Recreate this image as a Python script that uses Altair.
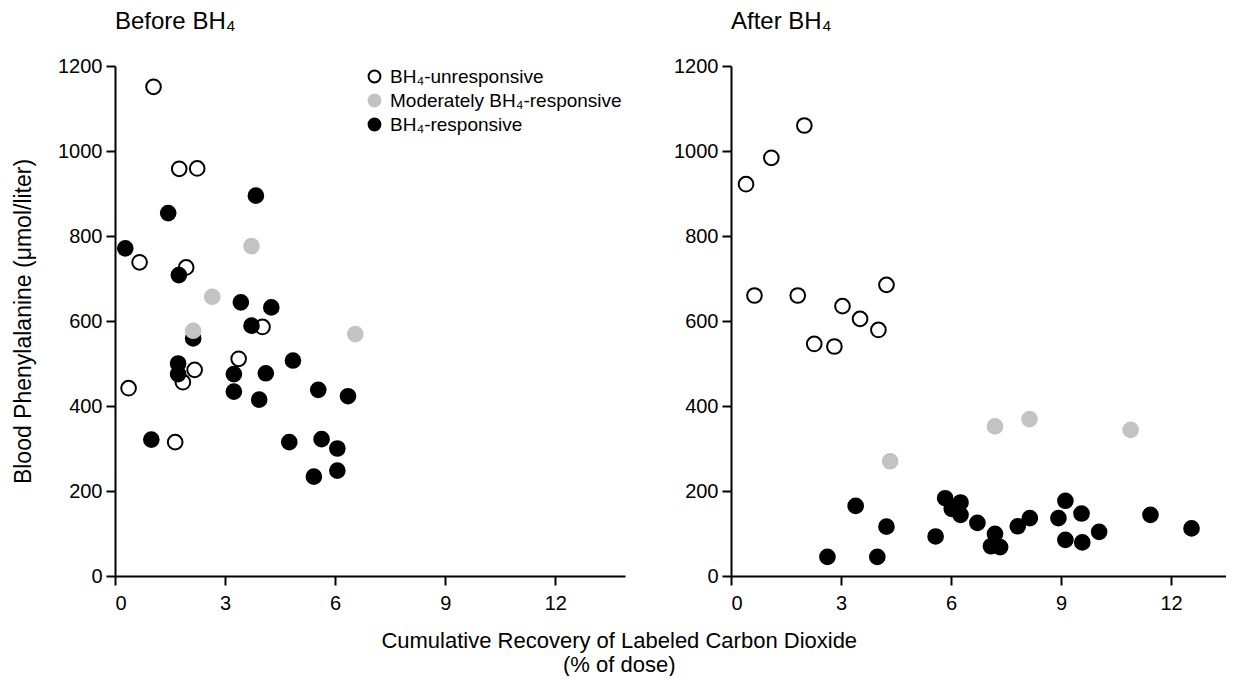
import altair as alt
import pandas as pd

FONT = "Liberation Sans"

groups = ["BH₄-unresponsive", "Moderately BH₄-responsive", "BH₄-responsive"]
fill_colors = ["white", "#c3c3c3", "black"]
stroke_colors = ["black", "#c3c3c3", "black"]

# Before BH4
before_unresp_x = [1.05, 1.75, 2.24, 0.67, 1.94, 4.02, 3.37, 2.17, 1.85, 0.37, 1.64]
before_unresp_y = [1151, 958, 959, 738, 726, 586, 511, 485, 456, 442, 315]
before_mod_x = [3.72, 2.65, 2.13, 6.55]
before_mod_y = [776, 657, 577, 569]
before_resp_x = [1.45, 3.84, 0.28, 1.74, 3.43, 4.26, 3.72, 2.13, 1.72, 1.72, 3.24, 3.24,
                 4.11, 3.93, 4.85, 5.54, 6.35, 0.99, 4.75, 5.63, 6.06, 6.06, 5.42]
before_resp_y = [854, 895, 771, 708, 644, 632, 589, 559, 500, 475, 475, 434,
                 477, 415, 507, 438, 423, 321, 315, 322, 300, 248, 234]

# After BH4
after_unresp_x = [2.00, 1.10, 0.41, 0.64, 1.82, 4.24, 3.04, 3.52, 4.02, 2.27, 2.82]
after_unresp_y = [1060, 984, 922, 660, 660, 685, 635, 605, 579, 546, 540]
after_mod_x = [7.20, 8.14, 10.90, 4.34]
after_mod_y = [352, 369, 344, 270]
after_resp_x = [3.40, 4.24, 2.63, 3.99, 5.58, 5.84, 6.26, 6.02, 6.26, 6.72, 7.20, 7.09,
                7.34, 7.82, 8.15, 8.93, 9.12, 9.12, 9.56, 9.58, 10.04, 11.44, 12.56]
after_resp_y = [165, 116, 45, 45, 93, 183, 173, 158, 144, 125, 99, 70,
                68, 117, 136, 136, 177, 85, 147, 79, 104, 144, 112]

x_ticks = [0, 3, 6, 9, 12]
y_ticks = [0, 200, 400, 600, 800, 1000, 1200]


def frame(xs_list, ys_list):
    rows = []
    for g, xs, ys in zip(groups, xs_list, ys_list):
        for xv, yv in zip(xs, ys):
            rows.append({"x": xv, "y": yv, "group": g})
    # draw order: open, responsive (black), moderate (gray) on top
    order = {groups[0]: 0, groups[2]: 1, groups[1]: 2}
    rows.sort(key=lambda r: order[r["group"]])
    return pd.DataFrame(rows)


before_df = frame([before_unresp_x, before_mod_x, before_resp_x],
                  [before_unresp_y, before_mod_y, before_resp_y])
after_df = frame([after_unresp_x, after_mod_x, after_resp_x],
                 [after_unresp_y, after_mod_y, after_resp_y])


def panel(df, title, xmax, width, show_legend, ytitle):
    legend = alt.Legend(
        title=None, orient="none", legendX=250, legendY=1,
        symbolType="circle", symbolSize=140, symbolStrokeWidth=2,
        labelFontSize=19, labelFont=FONT, labelColor="black", labelLimit=0,
        rowPadding=3, padding=0, labelOffset=6,
    ) if show_legend else None
    return alt.Chart(df, title=alt.Title(
        title, anchor="start", frame="group", fontSize=24, font=FONT,
        fontWeight="normal", color="black", offset=22,
    )).mark_circle(size=215, strokeWidth=2, opacity=1, fillOpacity=1).encode(
        x=alt.X("x:Q", scale=alt.Scale(domain=[0, xmax], nice=False, zero=True),
                axis=alt.Axis(values=x_ticks, title=None, format="d")),
        y=alt.Y("y:Q", scale=alt.Scale(domain=[0, 1200], nice=False),
                axis=alt.Axis(values=y_ticks, title=ytitle, format="d")),
        fill=alt.Fill("group:N", scale=alt.Scale(domain=groups, range=fill_colors),
                      legend=legend, sort=groups),
        stroke=alt.Stroke("group:N", scale=alt.Scale(domain=groups, range=stroke_colors),
                          legend=legend, sort=groups),
        order=alt.Order("idx:Q"),
    ).transform_window(idx="row_number()").properties(width=width, height=510)


left = panel(before_df, "Before BH₄", 13.9, 510, True,
             "Blood Phenylalanine (μmol/liter)")
right = panel(after_df, "After BH₄", 13.5, 495, False, None)

chart = alt.hconcat(left, right, spacing=48).resolve_scale(
    fill="independent", stroke="independent"
).properties(
    title=alt.Title(
        ["Cumulative Recovery of Labeled Carbon Dioxide", "(% of dose)"],
        orient="bottom", anchor="middle", fontSize=22, lineHeight=24,
        font=FONT, fontWeight="normal", color="black", offset=18,
    ),
    padding={"left": 4, "top": 2, "right": 0, "bottom": 0},
).configure_view(stroke=None).configure_axis(
    grid=False, domainColor="black", domainWidth=2, tickColor="black",
    tickWidth=2, tickSize=9, labelFontSize=20, labelFont=FONT,
    labelColor="black", labelPadding=4, titleFont=FONT, titleFontSize=23,
    titleFontWeight="normal", titleColor="black", titlePadding=22,
).configure_axisX(labelPadding=8)

chart.save("out.html", embed_options={"renderer": "svg", "actions": False})
